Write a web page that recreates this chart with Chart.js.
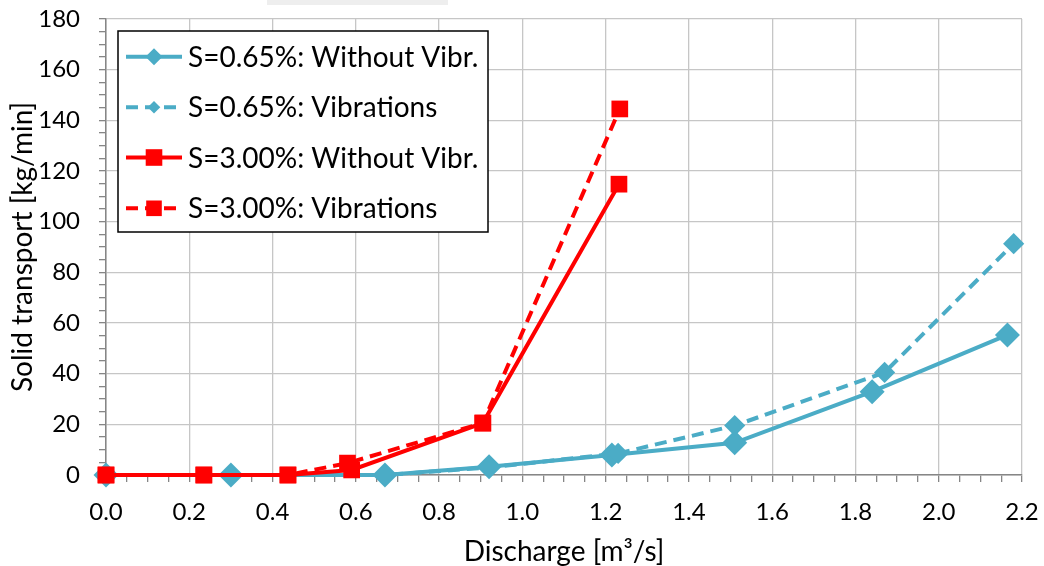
<!DOCTYPE html>
<html>
<head>
<meta charset="utf-8">
<script src="https://cdn.jsdelivr.net/npm/chart.js@4.4.1/dist/chart.umd.min.js"></script>
<style>
  html, body { margin: 0; padding: 0; background: #fff; }
  #wrap { width: 1044px; height: 566px; position: relative; }
</style>
</head>
<body>
<div id="wrap"><canvas id="transportChart" width="1044" height="566"></canvas></div>
<script>
// data
const discharge065Plain = [0, 0.30, 0.67, 0.92, 1.215, 1.51, 1.84, 2.165];
const transport065Plain = [0, 0, 0, 3.3, 7.9, 12.7, 32.9, 55.3];
const discharge065Vib = [0, 0.30, 0.67, 0.92, 1.23, 1.51, 1.87, 2.18];
const transport065Vib = [0, 0, 0, 3.0, 8.5, 19.5, 40.5, 91.3];
const discharge300Plain = [0, 0.235, 0.437, 0.59, 0.905, 1.232];
const transport300Plain = [0, 0, 0, 2.0, 20.5, 114.8];
const discharge300Vib = [0, 0.235, 0.437, 0.58, 0.905, 1.234];
const transport300Vib = [0, 0, 0, 4.7, 20.5, 144.5];

const seriesLabels = [
  "S=0.65%: Without Vibr.",
  "S=0.65%: Vibrations",
  "S=3.00%: Without Vibr.",
  "S=3.00%: Vibrations",
];

const BLUE = "#4bacc6";
const RED = "#ff0000";
const FONT = "Lato, 'Open Sans', sans-serif";

function toPoints(xs, ys) {
  return xs.map((x, i) => ({ x: x, y: ys[i] }));
}

function isMajor(v, step) {
  const r = v / step;
  return Math.abs(r - Math.round(r)) < 1e-6;
}

const datasets = [
  {
    label: seriesLabels[0],
    data: toPoints(discharge065Plain, transport065Plain),
    borderColor: BLUE,
    backgroundColor: BLUE,
    borderWidth: 4,
    pointStyle: "rectRot",
    pointRadius: 12.5,
    pointBorderWidth: 0,
    legendMarker: 8.5,
    clip: false,
    order: 3,
  },
  {
    label: seriesLabels[1],
    data: toPoints(discharge065Vib, transport065Vib),
    borderColor: BLUE,
    backgroundColor: BLUE,
    borderWidth: 4,
    borderDash: [12, 7],
    pointStyle: "rectRot",
    pointRadius: 10.6,
    pointBorderWidth: 0,
    legendMarker: 6.3,
    clip: false,
    order: 2,
  },
  {
    label: seriesLabels[2],
    data: toPoints(discharge300Plain, transport300Plain),
    borderColor: RED,
    backgroundColor: RED,
    borderWidth: 4,
    pointStyle: "rect",
    pointRadius: 11.8,
    pointBorderWidth: 0,
    legendMarker: 8.3,
    clip: false,
    order: 1,
  },
  {
    label: seriesLabels[3],
    data: toPoints(discharge300Vib, transport300Vib),
    borderColor: RED,
    backgroundColor: RED,
    borderWidth: 4,
    borderDash: [12, 7],
    pointStyle: "rect",
    pointRadius: 11.8,
    pointBorderWidth: 0,
    legendMarker: 7.8,
    clip: false,
    order: 0,
  },
];

// legend box drawn inside the plot, like the original
const boxLegend = {
  id: "boxLegend",
  beforeDraw(chart) {
    const ctx = chart.ctx;
    ctx.save();
    ctx.fillStyle = "#eeeeee";
    ctx.fillRect(267, 0, 181, 5);
    ctx.restore();
  },
  afterDraw(chart) {
    const ctx = chart.ctx;
    const left = 118, top = 31, w = 370, h = 201;
    ctx.save();
    ctx.fillStyle = "#fff";
    ctx.fillRect(left, top, w, h);
    ctx.strokeStyle = "#000";
    ctx.lineWidth = 1.5;
    ctx.strokeRect(left, top, w, h);
    const rows = [56.7, 107.3, 157.5, 208.3];
    chart.data.datasets.forEach((ds, i) => {
      const y = rows[i];
      ctx.strokeStyle = ds.borderColor;
      ctx.lineWidth = ds.borderWidth;
      ctx.setLineDash(ds.borderDash || []);
      ctx.beginPath();
      ctx.moveTo(126, y);
      ctx.lineTo(182, y);
      ctx.stroke();
      ctx.setLineDash([]);
      ctx.fillStyle = ds.backgroundColor;
      const r = ds.legendMarker;
      ctx.beginPath();
      if (ds.pointStyle === "rectRot") {
        ctx.moveTo(154, y - r);
        ctx.lineTo(154 + r, y);
        ctx.lineTo(154, y + r);
        ctx.lineTo(154 - r, y);
      } else {
        ctx.rect(154 - r, y - r, 2 * r, 2 * r);
      }
      ctx.closePath();
      ctx.fill();
      ctx.fillStyle = "#000";
      ctx.font = "28px " + FONT;
      ctx.textBaseline = "middle";
      ctx.fillText(ds.label, 188, y + 1);
    });
    ctx.restore();
  },
};

const config = {
  type: "scatter",
  data: { datasets },
  options: {
    responsive: false,
    animation: false,
    showLine: true,
    layout: { padding: { top: 19, right: 22, left: 0, bottom: 0 } },
    plugins: {
      legend: { display: false },
      tooltip: { enabled: false },
    },
    scales: {
      x: {
        type: "linear",
        min: 0,
        max: 2.2,
        afterFit: (s) => {
          s.height = 91;
          s.paddingLeft = 0;
          s.paddingRight = 0;
        },
        border: { color: "#868686", width: 1.5 },
        grid: {
          color: (c) => (c.tick && isMajor(c.tick.value, 0.2) ? "#c6c6c6" : "rgba(0,0,0,0)"),
          tickColor: "#868686",
          tickLength: 7,
          lineWidth: 1.3,
        },
        ticks: {
          stepSize: 0.05,
          autoSkip: false,
          maxRotation: 0,
          padding: 16,
          color: "#000",
          font: { family: FONT, size: 24 },
          callback: (v) => (isMajor(v, 0.2) ? v.toFixed(1) : ""),
        },
        title: {
          display: true,
          text: "Discharge [m³/s]",
          color: "#000",
          font: { family: FONT, size: 28 },
          padding: { top: 0, bottom: -3 },
        },
      },
      y: {
        min: 0,
        max: 180,
        afterFit: (s) => {
          s.width = 106;
          s.paddingTop = 10;
          s.paddingBottom = 10;
        },
        border: { color: "#868686", width: 1.5 },
        grid: {
          color: (c) => (c.tick && isMajor(c.tick.value, 20) ? "#c6c6c6" : "rgba(0,0,0,0)"),
          tickColor: "#868686",
          tickLength: 7,
          lineWidth: 1.3,
        },
        ticks: {
          stepSize: 5,
          autoSkip: false,
          padding: 19,
          color: "#000",
          font: { family: FONT, size: 24 },
          callback: (v) => (isMajor(v, 20) ? String(v) : ""),
        },
        title: {
          display: true,
          text: "Solid transport [kg/min]",
          color: "#000",
          font: { family: FONT, size: 28 },
          padding: { top: 6, bottom: 0 },
        },
      },
    },
  },
  plugins: [boxLegend],
};

const transportChart = new Chart(document.getElementById("transportChart"), config);
</script>
</body>
</html>
